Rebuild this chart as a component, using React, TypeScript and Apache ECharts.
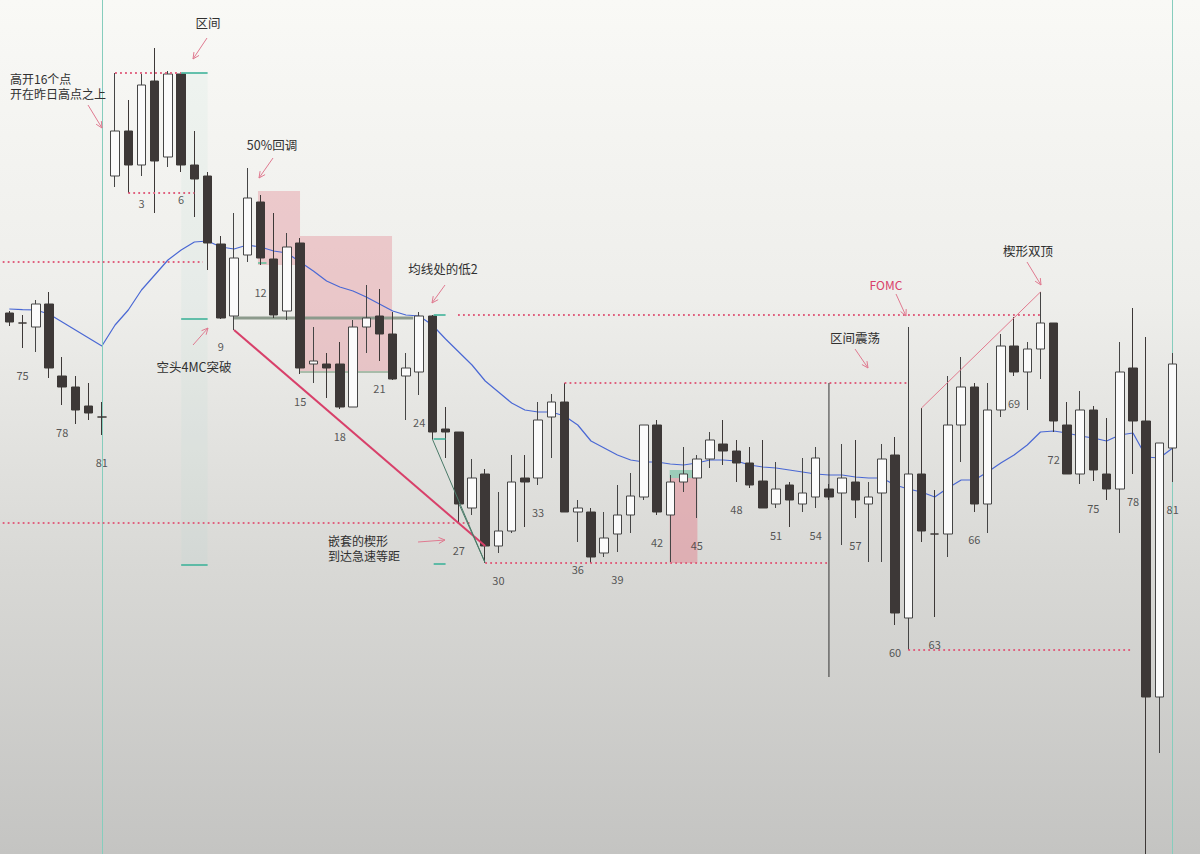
import React, { useEffect, useRef } from "react";
import * as echarts from "echarts";

// ---------- data (ES-style points, 0.25 tick) ----------
const prevDayNumbers = [74, 75, 76, 77, 78, 79, 80, 81];
// each bar: [open, close, low, high]
const prevDayBars: number[][] = [
  [4121.75, 4119.5, 4118.5, 4122.25],
  [4119.25, 4119.25, 4113, 4121.25],
  [4118.25, 4124, 4112, 4125],
  [4124, 4108, 4105.5, 4127],
  [4106, 4103.25, 4098.75, 4110.75],
  [4103.25, 4097.5, 4094, 4106],
  [4098.5, 4096.75, 4095, 4104.25],
  [4095.75, 4095.75, 4091.25, 4099.5],
];
const todayBars: number[][] = [
  [4156, 4167.25, 4153.25, 4181.75],
  [4167.25, 4158.75, 4151.75, 4175],
  [4158.75, 4178.75, 4156, 4181.5],
  [4179.75, 4159.75, 4146.75, 4188],
  [4160.75, 4181.5, 4158.25, 4182.25],
  [4181.5, 4158.75, 4157, 4181.75],
  [4158.75, 4155.25, 4145.75, 4167.25],
  [4156, 4139.25, 4132.5, 4157],
  [4139, 4120.5, 4120.25, 4141],
  [4121, 4135.5, 4117.5, 4146.75],
  [4136.25, 4150.5, 4134.5, 4158],
  [4149.5, 4135.5, 4133.75, 4151.25],
  [4135.25, 4121.25, 4120.5, 4146.75],
  [4122.25, 4138.25, 4120, 4141.75],
  [4139.25, 4108, 4106.5, 4140.5],
  [4109, 4109.75, 4104.25, 4118.25],
  [4109, 4108, 4100.5, 4111.75],
  [4109, 4098.25, 4097.75, 4114.5],
  [4098.25, 4118.25, 4098.25, 4120],
  [4118.25, 4120.5, 4111.75, 4128.75],
  [4121, 4116.5, 4109.75, 4127.75],
  [4116.5, 4105.25, 4105, 4122],
  [4106, 4108, 4095, 4111.75],
  [4107, 4121, 4101.25, 4122],
  [4121, 4092, 4090.25, 4121.25],
  [4092.75, 4092, 4085.5, 4098.25],
  [4092, 4074, 4069.25, 4092],
  [4073, 4080.5, 4071.25, 4085.25],
  [4081.5, 4063.5, 4059.25, 4082.75],
  [4063.5, 4067.25, 4061.75, 4077],
  [4067.25, 4079.5, 4066.75, 4086.25],
  [4080.5, 4079.5, 4068.25, 4086.25],
  [4080.5, 4095, 4078.75, 4099.5],
  [4095.75, 4099.5, 4085.5, 4101.5],
  [4099.5, 4072, 4072, 4104.25],
  [4072, 4073, 4064.5, 4075],
  [4072, 4060.75, 4059.25, 4073],
  [4061.75, 4065.5, 4060.75, 4072],
  [4066.5, 4071.25, 4062, 4078.75],
  [4071.25, 4076, 4066.75, 4081.75],
  [4075.75, 4093.75, 4075, 4093.75],
  [4093.75, 4072, 4071.25, 4095],
  [4071.25, 4079.5, 4059.5, 4081.25],
  [4079.5, 4081.5, 4077, 4088.25],
  [4080.5, 4085.25, 4070.5, 4086.25],
  [4085.25, 4090, 4083, 4092],
  [4089, 4087.25, 4083.75, 4095],
  [4087.25, 4084.25, 4079.5, 4090],
  [4084.25, 4078.75, 4078, 4088.25],
  [4079.75, 4073, 4073, 4090],
  [4074, 4077.75, 4073, 4084.5],
  [4078.75, 4075, 4068.25, 4079.5],
  [4074, 4076.75, 4072, 4085.5],
  [4075.75, 4085.5, 4073, 4088.25],
  [4077.75, 4075.75, 4075, 4079],
  [4076.75, 4080.5, 4063.75, 4089],
  [4079.5, 4075, 4070.5, 4090],
  [4074, 4075.75, 4059.5, 4079.5],
  [4076.75, 4085.25, 4059.5, 4089],
  [4086.25, 4046.75, 4043.75, 4090.75],
  [4045.5, 4081.5, 4037.5, 4118.25],
  [4081.5, 4067.25, 4064.5, 4098],
  [4066.5, 4066.5, 4045.75, 4077.5],
  [4066.5, 4093.75, 4060.75, 4106],
  [4093.75, 4103.25, 4084.5, 4110.75],
  [4103.25, 4074, 4072, 4104.25],
  [4074, 4097.5, 4066.75, 4104.25],
  [4097.5, 4113.5, 4095.75, 4116.5],
  [4113.5, 4107, 4106, 4120.75],
  [4107, 4112.75, 4097.5, 4114.5],
  [4112.75, 4119.25, 4105.25, 4127],
  [4119.25, 4094.75, 4092, 4119.25],
  [4093.75, 4081.5, 4081.5, 4099.5],
  [4081.5, 4097.5, 4079, 4102.25],
  [4097.5, 4082.5, 4079.75, 4098.5],
  [4081.5, 4077.75, 4075, 4095.5],
  [4077.75, 4107, 4066.75, 4114.5],
  [4108, 4094.75, 4081.5, 4123],
  [4094.75, 4025.75, 3986.5, 4115.75],
  [4025.75, 4089.25, 4011.75, 4089.25],
  [4088, 4109, 4079.5, 4111.75],
];
const prevDayEma = [4122.75, 4122.6, 4122.5, 4121.5, 4119.5, 4117.5, 4115.5, 4113.5];
const todayEma = [
  4118.75, 4122.5, 4127.5, 4131.25, 4135, 4137.5, 4139.5, 4139.75, 4138.25, 4137.75,
  4138.75, 4138.25, 4137.25, 4136.75, 4134.5, 4132.25, 4129.75, 4128.25, 4127.25, 4125.75,
  4124, 4122.25, 4121.25, 4121, 4118.75, 4115.25, 4112, 4108.75, 4104.75, 4102,
  4099.25, 4097.5, 4097, 4097, 4096, 4093.75, 4089.75, 4088, 4086.25, 4085,
  4084.5, 4084.5, 4084, 4083.75, 4084.25, 4085, 4085, 4084.75, 4083.75, 4083.25,
  4083, 4082.5, 4082, 4081.5, 4081.25, 4081.25, 4080.75, 4080.5, 4080.5, 4078.75,
  4077.75, 4077, 4075.75, 4078, 4080, 4080, 4082, 4084.25, 4086.25, 4088.75,
  4092, 4092.25, 4091.75, 4091, 4090.5, 4089.75, 4091.25, 4091.75, 4085.75, 4085.5,
  4088,
];
const prevDayLabelled = [75, 78, 81];
const labelEvery = 3;

// ---------- derived ----------
const PREV = prevDayNumbers.length;
const T = (n: number) => n + PREV - 1; // today bar n -> category index
const categories = [
  ...prevDayNumbers.map((n) => `昨${n}`),
  ...todayBars.map((_, i) => `${i + 1}`),
  "",
];
const candleData = [...prevDayBars, ...todayBars];
const emaData = [...prevDayEma, ...todayEma];
const labelData: any[] = [];
prevDayNumbers.forEach((n, i) => {
  if (prevDayLabelled.includes(n)) labelData.push([i, prevDayBars[i][2], String(n)]);
});
todayBars.forEach((b, i) => {
  if ((i + 1) % labelEvery === 0) labelData.push([T(i + 1), b[2], String(i + 1)]);
});
const hi = (n: number) => todayBars[n - 1][3];
const lo = (n: number) => todayBars[n - 1][2];

const FONT = '"Noto Sans CJK SC", "Noto Sans", sans-serif';
const PINK = "#e0607e";
const ARROW = "#e07a90";
const TEAL = "#3fb39a";
const TEXT = "#303030";

export default function App() {
  const ref = useRef<HTMLDivElement>(null);
  useEffect(() => {
    const chart = echarts.init(ref.current!, null, { renderer: "svg" });
    chart.setOption({
      animation: false,
      backgroundColor: new echarts.graphic.LinearGradient(0, 0, 0, 1, [
        { offset: 0, color: "#f9f9f6" },
        { offset: 0.35, color: "#eeeeeb" },
        { offset: 0.67, color: "#d8d8d5" },
        { offset: 1, color: "#c4c4c2" },
      ]),
      grid: { left: 2.7, right: 7.5, top: 0, bottom: 0 },
      xAxis: {
        type: "category",
        data: categories,
        boundaryGap: true,
        show: false,
      },
      yAxis: {
        type: "value",
        min: 3986.5,
        max: 4200,
        show: false,
        splitLine: { show: false },
      },
      series: [
        {
          type: "candlestick",
          data: candleData,
          barWidth: 9,
          z: 5,
          itemStyle: {
            color: "#fbfbfb",
            color0: "#3d3837",
            borderColor: "#454545",
            borderColor0: "#3d3837",
            borderWidth: 1,
          },
          markLine: {
            silent: true,
            symbol: ["none", "none"],
            label: { show: false },
            lineStyle: { color: "#86cdbd", width: 1, type: "solid" },
            data: [{ xAxis: categories[PREV - 1] }, { xAxis: categories[T(81)] }],
          },
        },
        {
          type: "line",
          data: emaData,
          symbol: "none",
          z: 4,
          lineStyle: { color: "#4a68d4", width: 1.2 },
        },
        {
          type: "scatter",
          data: labelData,
          symbolSize: 1,
          itemStyle: { color: "rgba(0,0,0,0)" },
          label: {
            show: true,
            position: "bottom",
            distance: 21,
            fontSize: 11,
            color: TEXT,
            fontFamily: FONT,
            formatter: (p: any) => p.data[2],
          },
        },
      ],
    });

    const a0 = chart.convertToPixel({ seriesIndex: 0 }, [0, 4100]) as number[];
    const a1 = chart.convertToPixel({ seriesIndex: 0 }, [1, 4100]) as number[];
    const step = a1[0] - a0[0];
    const X = (k: number) => a0[0] + k * step;
    const Y = (p: number) => (chart.convertToPixel({ seriesIndex: 0 }, [0, p]) as number[])[1];

    const els: any[] = [];
    const seg = (k1: number, p1: number, k2: number, p2: number, stroke: string, lw: number, dash?: number[], z = 20) =>
      els.push({
        type: "line",
        z,
        silent: true,
        shape: { x1: X(k1), y1: Y(p1), x2: X(k2), y2: Y(p2) },
        style: { stroke, lineWidth: lw, lineDash: dash },
      });
    const dotted = (k1: number, k2: number, p: number) => seg(k1, p, k2, p, PINK, 1.8, [1.8, 3.2]);
    const rect = (k1: number, k2: number, p1: number, p2: number, fill: string, z = 1) =>
      els.push({
        type: "rect",
        z,
        silent: true,
        shape: { x: X(k1), y: Y(p1), width: X(k2) - X(k1), height: Y(p2) - Y(p1) },
        style: { fill },
      });
    const arrow = (x1: number, y1: number, x2: number, y2: number) => {
      const ang = Math.atan2(y2 - y1, x2 - x1);
      const L = 7;
      const w = 0.45;
      els.push({ type: "line", z: 30, silent: true, shape: { x1, y1, x2, y2 }, style: { stroke: ARROW, lineWidth: 1 } });
      els.push({
        type: "polyline",
        z: 30,
        silent: true,
        shape: {
          points: [
            [x2 - L * Math.cos(ang - w), y2 - L * Math.sin(ang - w)],
            [x2, y2],
            [x2 - L * Math.cos(ang + w), y2 - L * Math.sin(ang + w)],
          ],
        },
        style: { stroke: ARROW, lineWidth: 1, fill: null },
      });
    };
    const text = (x: number, y: number, t: string, align = "center", fill = TEXT, size = 12.5) =>
      els.push({
        type: "text",
        z: 40,
        silent: true,
        x,
        y,
        style: {
          text: t,
          fill,
          font: `${size}px ${FONT}`,
          align,
          verticalAlign: "middle",
        },
      });

    // shaded zones
    rect(T(11.81), T(14.99), 4152.25, 4133.75, "rgba(228,150,160,0.45)");
    rect(T(14.99), T(21.95), 4141, 4107, "rgba(228,150,160,0.45)");
    rect(T(6), T(8), hi(1), 4058.75, "rgba(170,215,205,0.1)");
    rect(T(42.95), T(45.05), 4080.5, lo(29), "rgba(226,140,152,0.55)");
    rect(T(42.95), T(45.05), 4082.5, 4080.5, "rgba(110,190,160,0.6)");

    // range / measured move
    dotted(T(1), T(6), hi(1));
    seg(T(6), hi(1), T(8), hi(1), TEAL, 1.6);
    dotted(T(2), T(7), lo(2));
    seg(T(6), lo(9), T(8), lo(9), TEAL, 1.6);
    seg(T(6), 4058.75, T(8), 4058.75, TEAL, 1.6);
    dotted(-0.5, T(7.65), 4134.5);
    dotted(-0.5, T(27.9), lo(27));

    // breakout line & pullback zone borders
    seg(T(10), 4120.5, T(23.55), 4120.5, "#8c9a8c", 3, undefined, 3);
    seg(T(15), 4107, T(22), 4107, "#a9bcaa", 2, undefined, 3);
    seg(T(11.81), 4134.25, T(12.45), 4134.25, "#7fc2a6", 2, undefined, 3);

    // wedge lines
    seg(T(10), lo(10), T(29), 4063.5, "#d8406a", 2);
    seg(T(25), lo(25), T(29), lo(29), "#4a7a68", 1);
    seg(T(27.05), 4073.75, T(29), lo(29), "#4a7a68", 1);
    seg(T(25.1), hi(25), T(26), hi(25), TEAL, 1.6);
    seg(T(25.1), lo(25), T(26), lo(25), TEAL, 1.6);
    seg(T(25.1), 4059, T(26), 4059, TEAL, 1.6);

    // trading range levels
    dotted(T(26.94), T(71), hi(25));
    dotted(T(35), T(61), hi(35));
    dotted(T(29), T(55), lo(29));
    seg(T(55), hi(35), T(55), 4030.75, "#333333", 1);
    dotted(T(61), T(77.8), lo(61));
    seg(T(62), hi(62), T(71), hi(71), "#e27a8e", 1);

    // texts + arrows
    text(208, 22, "区间");
    arrow(207, 38, 193, 59);
    text(10, 78.5, "高开16个点", "left", TEXT, 12);
    text(10, 93.5, "开在昨日高点之上", "left", TEXT, 12);
    arrow(88, 105, 102, 128);
    text(272, 144, "50%回调");
    arrow(273, 158, 259, 178);
    text(194, 366, "空头4MC突破");
    arrow(193, 345, 208, 328);
    text(443, 268, "均线处的低2");
    arrow(445, 285, 432, 303);
    text(328, 540, "嵌套的楔形", "left", TEXT, 12);
    text(328, 555, "到达急速等距", "left", TEXT, 12);
    arrow(418, 542, 445, 540);
    text(886, 284, "FOMC", "center", "#d9416a", 12);
    arrow(896, 294, 906, 316);
    text(855, 337, "区间震荡");
    arrow(855, 349, 868, 368);
    text(1028, 250, "楔形双顶");
    arrow(1027, 262, 1041, 285);

    chart.setOption({ graphic: els });
    return () => chart.dispose();
  }, []);
  return (
    <div
      ref={ref}
      style={{ position: "absolute", left: 0, top: 0, width: 1200, height: 854 }}
    />
  );
}
